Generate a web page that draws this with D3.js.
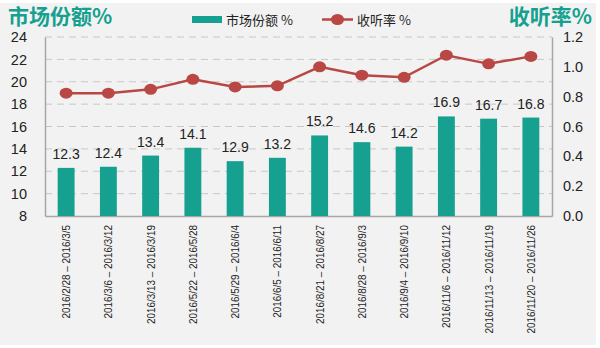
<!DOCTYPE html>
<html><head><meta charset="utf-8">
<script src="https://cdn.jsdelivr.net/npm/d3@7"></script>
<style>body{margin:0;background:#fff}svg{display:block}text{font-family:"Liberation Sans",Arial,sans-serif}</style>
</head><body><svg id="c" width="600" height="348"></svg>
<script>
const categories = ["2016/2/28 – 2016/3/5","2016/3/6 – 2016/3/12","2016/3/13 – 2016/3/19","2016/5/22 – 2016/5/28","2016/5/29 – 2016/6/4","2016/6/5 – 2016/6/11","2016/8/21 – 2016/8/27","2016/8/28 – 2016/9/3","2016/9/4 – 2016/9/10","2016/11/6 – 2016/11/12","2016/11/13 – 2016/11/19","2016/11/20 – 2016/11/26"];
const shareValues = [12.3,12.4,13.4,14.1,12.9,13.2,15.2,14.6,14.2,16.9,16.7,16.8];
const ratingValues = [0.823,0.823,0.849,0.916,0.865,0.873,1.0,0.944,0.93,1.078,1.02,1.07];
const leftTicks = [8,10,12,14,16,18,20,22,24];
const rightTicks = [0,0.2,0.4,0.6,0.8,1.0,1.2];
const seriesNames = ["市场份额 %","收听率 %"];
const axisTitles = ["市场份额%","收听率%"];

const teal = "#15a08f", red = "#b94744", txt = "#222";
const svg = d3.select("#c");
svg.append("rect").attr("x",0).attr("y",3).attr("width",596).attr("height",342).attr("fill","#f2f2f2");

const L = 45, R = 552, T = 37, B = 216;
const x = d3.scaleBand().domain(categories).range([L,R]).paddingInner(0.6).paddingOuter(0.3);
const yL = d3.scaleLinear().domain([8,24]).range([B,T]);
const yR = d3.scaleLinear().domain([0,1.2]).range([B,T]);

// grid
svg.append("g").selectAll("line").data(leftTicks.slice(1)).join("line")
  .attr("x1",L).attr("x2",R).attr("y1",d=>yL(d)).attr("y2",d=>yL(d))
  .attr("stroke","#c8c8c8").attr("stroke-width",1).attr("stroke-dasharray","7,5");

// left axis
const gl = svg.append("g").attr("transform",`translate(${L},0)`)
  .call(d3.axisLeft(yL).tickValues(leftTicks).tickSize(0).tickPadding(18).tickFormat(d3.format("d")));
gl.select(".domain").attr("stroke","#a6a6a6").attr("stroke-width",1.5);
gl.selectAll("text").attr("font-size",14.5).attr("fill",txt);

const gr = svg.append("g").attr("transform",`translate(${R},0)`)
  .call(d3.axisRight(yR).tickValues(rightTicks).tickSize(0).tickPadding(11).tickFormat(d3.format(".1f")));
gr.select(".domain").attr("stroke","#a6a6a6").attr("stroke-width",1.5);
gr.selectAll("text").attr("font-size",14.5).attr("fill",txt);

const gb = svg.append("g").attr("transform",`translate(0,${B})`)
  .call(d3.axisBottom(x).tickSize(0).tickPadding(8));
gb.select(".domain").attr("stroke","#a6a6a6").attr("stroke-width",1.5);
gb.selectAll("text").attr("font-size",11.5).attr("fill",txt)
  .attr("transform","rotate(-90) scale(0.86,1)").attr("text-anchor","end").attr("dy","0.35em").attr("x",-9/0.86).attr("y",0);

// bars
svg.append("g").selectAll("rect").data(shareValues).join("rect")
  .attr("x",(d,i)=>x(categories[i])).attr("width",x.bandwidth())
  .attr("y",d=>yL(d)).attr("height",d=>B-yL(d)).attr("fill",teal);
svg.append("g").selectAll("text").data(shareValues).join("text")
  .attr("x",(d,i)=>x(categories[i])+x.bandwidth()/2).attr("y",d=>yL(d)-9)
  .attr("text-anchor","middle").attr("font-size",14).attr("fill",txt).text(d=>d.toFixed(1));

// line
const cx = i => x(categories[i]) + x.bandwidth()/2;
svg.append("path").datum(ratingValues)
  .attr("d",d3.line().x((d,i)=>cx(i)).y(d=>yR(d)))
  .attr("fill","none").attr("stroke",red).attr("stroke-width",2.5);
svg.append("g").selectAll("ellipse").data(ratingValues).join("ellipse")
  .attr("cx",(d,i)=>cx(i)).attr("cy",d=>yR(d)).attr("rx",6.5).attr("ry",5.5).attr("fill",red);

// titles
svg.append("text").attr("x",8).attr("y",23.5).attr("font-size",21).attr("font-weight","bold")
  .attr("fill",teal).style("font-family","'Noto Sans CJK SC',sans-serif").text(axisTitles[0]);
svg.append("text").attr("x",592).attr("y",23.5).attr("text-anchor","end").attr("font-size",21).attr("font-weight","bold")
  .attr("fill",teal).style("font-family","'Noto Sans CJK SC',sans-serif").text(axisTitles[1]);

// legend
svg.append("rect").attr("x",192).attr("y",16).attr("width",30).attr("height",7).attr("fill",teal);
svg.append("text").attr("x",226).attr("y",24.5).attr("font-size",13).attr("fill",txt)
  .style("font-family","'Noto Sans CJK SC',sans-serif").text(seriesNames[0]);
svg.append("line").attr("x1",322).attr("x2",353).attr("y1",19.5).attr("y2",19.5).attr("stroke",red).attr("stroke-width",2.5);
svg.append("ellipse").attr("cx",337.5).attr("cy",19.5).attr("rx",6.5).attr("ry",5.5).attr("fill",red);
svg.append("text").attr("x",357).attr("y",24.5).attr("font-size",13).attr("fill",txt)
  .style("font-family","'Noto Sans CJK SC',sans-serif").text(seriesNames[1]);
</script></body></html>
